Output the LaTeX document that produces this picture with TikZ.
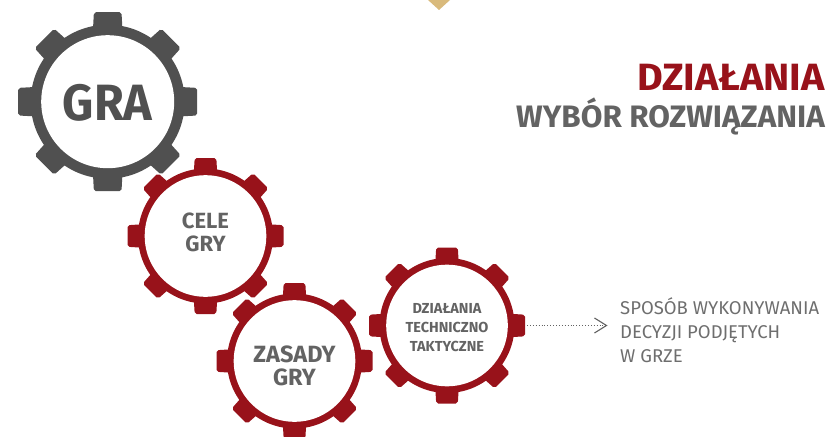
\documentclass[tikz,border=0pt]{standalone}
\usepackage{fontspec}
\usepackage{graphicx}
\setmainfont{Fira Sans}
\usetikzlibrary{arrows.meta}
\definecolor{gearred}{HTML}{98121A}
\definecolor{geargray}{HTML}{505050}
\definecolor{txtgray}{HTML}{636363}
\definecolor{lightgray2}{HTML}{6E6E6E}
\definecolor{gold}{HTML}{D9BA7C}
\tikzset{
  hubtext/.style={align=center,text=txtgray,inner sep=0pt},
  lead/.style={draw=txtgray,line width=0.9pt,dotted,-{Straight Barb[length=12pt,width=15pt,line width=1.1pt,line cap=butt]}},
}
% \gearat{name}{x}{y}{ring outer}{ring inner}{tooth outer}{tooth half width}{colour}
\newcommand{\gearat}[8]{%
  \begin{scope}[shift={(#2,#3)}]
    \foreach \a in {0,45,...,315}{
      \fill[#8,rotate=\a,rounded corners=2pt] (#4-6,-#7-1) -- (#6,-#7) -- (#6,#7) -- (#4-6,#7+1) -- cycle;
    }
    \fill[#8] (0,0) circle[radius=#4];
    \node[circle,fill=white,minimum size=#5*2pt,inner sep=0pt] (#1) at (0,0) {};
  \end{scope}
}
\begin{document}
\begin{tikzpicture}[x=1pt,y=-1pt]
\useasboundingbox (0,0) rectangle (826,436);
\clip (0,0) rectangle (826,436);
\fill[gold] (428,0) -- (450,0) -- (439,10) -- cycle;
\gearat{gra}{107.7}{101.7}{77}{66.5}{89.5}{13.8}{geargray}
\node[hubtext,font=\fontsize{51}{51}\selectfont\bfseries,text=geargray] at ([yshift=-1pt]gra) {\scalebox{0.95}[1]{GRA}};
\gearat{cele}{205.5}{236}{67.5}{60.8}{78}{10.8}{gearred}
\node[hubtext,font=\fontsize{22}{23.5}\selectfont\bfseries] at ([yshift=3.5pt]cele) {CELE\\GRY};
\gearat{zas}{294.5}{361}{67.5}{60.8}{78}{10.8}{gearred}
\node[hubtext,font=\fontsize{23.5}{23.5}\selectfont\bfseries] at ([yshift=-5pt]zas) {ZASADY\\GRY};
\gearat{dz}{447}{325.5}{67.5}{60.8}{78}{10.8}{gearred}
\node[hubtext,font=\fontsize{14.5}{19}\selectfont\bfseries] at ([yshift=-2.5pt]dz) {DZIAŁANIA\\TECHNICZNO\\TAKTYCZNE};
\coordinate (leadstart) at (527,325.5);
\coordinate (leadend) at (607.5,325.5);
\draw[lead] (leadstart) -- (leadend);
\node[anchor=east,inner sep=0pt,text=gearred,font=\fontsize{38}{38}\selectfont\bfseries] (t1) at (825,77) {\scalebox{1.04}[1]{DZIAŁANIA}};
\node[anchor=east,inner sep=0pt,text=txtgray,font=\fontsize{31}{31}\selectfont\bfseries] (t2) at (825,116) {\scalebox{1.013}[1]{WYBÓR ROZWIĄZANIA}};
\node[anchor=north west,inner sep=0pt,align=left,text=lightgray2,font=\fontsize{18.5}{24}\selectfont] (t3) at (620,297) {SPOSÓB WYKONYWANIA\\DECYZJI PODJĘTYCH\\W GRZE};
\end{tikzpicture}
\end{document}
